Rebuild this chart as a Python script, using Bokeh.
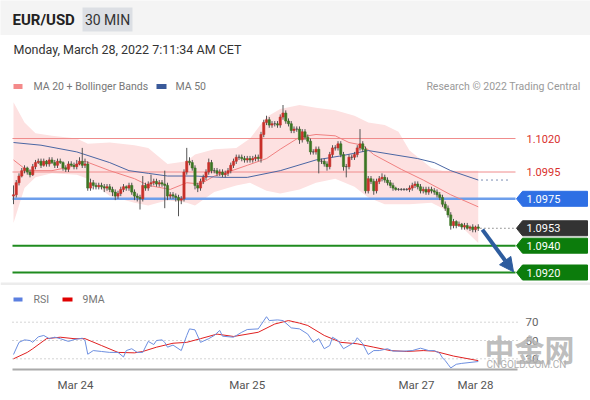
from bokeh.plotting import figure
from bokeh.models import (Range1d, Label, BoxAnnotation, FixedTicker, Arrow,
                          NormalHead, ColumnDataSource)
from bokeh.layouts import column
from bokeh.embed import file_html
from bokeh.resources import INLINE

FONT = "Roboto"

# ---------------- data ----------------
first_open = 1.0977
closes = [
    1.0978, 1.0987, 1.0992, 1.0996, 1.0998, 1.0995, 1.0993, 1.0999, 1.1002, 1.1003,
    1.1000, 1.1003, 1.1001, 1.1004, 1.1002, 1.1000, 1.1003, 1.1002, 1.0998, 1.0997,
    1.1001, 1.1000, 1.0999, 1.1001, 1.1003, 1.1000, 1.1001, 1.0983,
    1.0987, 1.0985, 1.0984, 1.0985, 1.0984, 1.0983, 1.0984, 1.0982, 1.0980, 1.0977,
    1.0979, 1.0982, 1.0984, 1.0983, 1.0985, 1.0980, 1.0977, 1.0976, 1.0975, 1.0985,
    1.0983, 1.0986, 1.0987, 1.0988, 1.0986, 1.0987, 1.0986, 1.0985, 1.0977, 1.0978,
    1.0977, 1.0976, 1.0974, 1.0975, 1.0995, 1.1003, 1.1002, 1.0998, 1.0985, 1.0983,
    1.0988, 1.0991, 1.0995, 1.1002, 1.0996, 1.0996, 1.0994, 1.0995, 1.0993, 1.0994,
    1.0996, 1.1000, 1.1003, 1.1006, 1.1006, 1.1005, 1.1004, 1.1005, 1.1004, 1.1005,
    1.1006, 1.1005,
    1.1023, 1.1032, 1.1034, 1.1030, 1.1031, 1.1031, 1.1030, 1.1036, 1.1039, 1.1033,
    1.1031, 1.1026, 1.1027, 1.1027, 1.1019, 1.1025, 1.1021, 1.1018, 1.1010, 1.1010,
    1.1012, 1.1003, 1.1003, 1.1001, 1.0999, 1.1008, 1.1013, 1.1013, 1.1016, 1.1008,
    1.0999, 1.0999, 1.1006, 1.1006, 1.1008, 1.1013, 1.1016, 1.1012,
    1.0981, 1.0990, 1.0988, 1.0981, 1.0988, 1.0990, 1.0991, 1.0989, 1.0987, 1.0985,
    1.0983, 1.0982, 1.0982, 1.0982, 1.0982, 1.0982, 1.0983, 1.0985, 1.0986, 1.0984,
    1.0981, 1.0982, 1.0980, 1.0982, 1.0981, 1.0980, 1.0978, 1.0976, 1.0971, 1.0968,
    1.0963, 1.0955, 1.0958, 1.0955, 1.0956, 1.0954, 1.0955, 1.0953, 1.0954, 1.0952,
    1.0954, 1.0953,
]
# wick lengths beyond the body, in pips
upper_wick = [
    7, 2, 2, 2, 2, 1, 2, 2, 2, 2,
    2, 2, 1, 2, 2, 2, 2, 2, 1, 2,
    2, 2, 2, 3, 3, 10, 4, 2, 3, 2,
    2, 2, 2, 2, 2, 2, 2, 2, 2, 2,
    2, 1, 2, 2, 2, 2, 2, 7, 2, 2,
    6, 2, 2, 2, 2, 10, 2, 2, 2, 2,
    2, 2, 2, 10, 3, 2, 2, 2, 2, 2,
    2, 3, 2, 2, 2, 2, 2, 2, 2, 2,
    2, 2, 2, 2, 2, 2, 2, 2, 2, 2,
    2, 2, 3, 2, 2, 2, 2, 2, 6, 2,
    2, 2, 2, 2, 2, 2, 2, 2, 2, 2,
    2, 2, 2, 2, 2, 2, 2, 2, 2, 2,
    2, 2, 2, 2, 2, 2, 11, 2, 2, 2,
    2, 2, 2, 2, 3, 2, 2, 2, 2, 1,
    1, 1, 1, 1, 2, 2, 2, 2, 2, 2,
    2, 2, 2, 2, 2, 2, 2, 2, 2, 2,
    2, 1, 2, 1, 2, 2, 1, 2, 1, 2,
]
lower_wick = [
    6, 2, 2, 1, 2, 2, 2, 1, 2, 1,
    2, 1, 2, 2, 1, 2, 2, 1, 2, 2,
    2, 1, 2, 2, 1, 2, 2, 2, 2, 3,
    2, 2, 2, 3, 2, 2, 3, 3, 2, 2,
    2, 2, 2, 2, 3, 3, 8, 2, 2, 2,
    2, 2, 2, 2, 2, 17, 3, 2, 2, 3,
    12, 3, 2, 2, 2, 2, 3, 3, 2, 2,
    2, 2, 2, 2, 2, 2, 2, 2, 2, 2,
    2, 2, 2, 2, 2, 2, 2, 2, 2, 2,
    3, 2, 2, 2, 2, 2, 2, 2, 2, 2,
    2, 2, 2, 2, 3, 2, 2, 2, 2, 2,
    2, 9, 2, 2, 3, 2, 2, 2, 2, 2,
    3, 8, 2, 2, 2, 2, 2, 2, 2, 2,
    2, 3, 2, 2, 2, 2, 2, 2, 2, 1,
    1, 1, 1, 1, 2, 2, 2, 2, 2, 2,
    2, 2, 2, 2, 2, 2, 2, 2, 2, 3,
    2, 2, 1, 2, 2, 1, 2, 2, 2, 2,
]

band_idx = [0, 4, 8, 14, 23, 27, 35, 44, 49, 56, 63, 66, 73, 81, 86, 92, 97, 104,
            110, 117, 124, 129, 135, 140, 144, 152, 156, 159, 169]
band_upper = [1.1047, 1.1032, 1.1024, 1.1022, 1.1020, 1.1016, 1.1017, 1.1015, 1.1013,
              1.1001, 1.1003, 1.1008, 1.1012, 1.1013, 1.1020, 1.1036, 1.1042, 1.1045,
              1.1043, 1.1041, 1.1037, 1.1032, 1.1030, 1.1025, 1.1011, 1.0998, 1.0996,
              1.0996, 1.0996]
band_lower = [1.0957, 1.0983, 1.0991, 1.0994, 1.0993, 1.0990, 1.0977, 1.0972, 1.0970,
              1.0974, 1.0972, 1.0970, 1.0980, 1.0985, 1.0987, 1.0981, 1.0979, 1.0982,
              1.0987, 1.0990, 1.0984, 1.0976, 1.0971, 1.0971, 1.0971, 1.0972, 1.0968,
              1.0962, 1.0942]

ma20_idx = [0, 5, 14, 21, 26, 35, 44, 49, 57, 63, 68, 73, 78, 85, 92, 97, 104, 110,
            117, 122, 127, 131, 141, 149, 159, 169]
ma20 = [1.1004, 1.0996, 1.0996, 1.0999, 1.1003, 1.0996, 1.0990, 1.0985, 1.0982, 1.0987,
        1.0986, 1.0992, 1.0995, 1.1000, 1.1005, 1.1012, 1.1021, 1.1023, 1.1022, 1.1017,
        1.1015, 1.1008, 1.0997, 1.0989, 1.0978, 1.0969]

ma50_idx = [0, 10, 23, 35, 42, 49, 56, 66, 76, 85, 97, 110, 119, 129, 147, 153, 159, 169]
ma50 = [1.1017, 1.1015, 1.1010, 1.1002, 1.0996, 1.0994, 1.0992, 1.0992, 1.0991, 1.0991,
        1.0996, 1.1004, 1.1007, 1.1011, 1.1005, 1.1002, 1.0996, 1.0989]

levels = [1.1020, 1.0995, 1.0975, 1.0953, 1.0940, 1.0920]
level_labels = ["1.1020", "1.0995", "1.0975", "1.0953", "1.0940", "1.0920"]
level_kind = ["resistance", "resistance", "pivot", "last", "support", "support"]

rsi_idx = [0, 2, 4, 6, 7, 9, 11, 13, 15, 17, 20, 22, 25, 26, 27, 29, 32, 35, 38, 40,
           41, 43, 45, 47, 49, 51, 52, 54, 55, 56, 58, 61, 63, 64, 66, 68, 71, 73, 75, 76,
           80, 83, 85, 89, 92, 93, 96, 98, 101, 104, 107, 109, 111, 113, 115, 116, 118,
           120, 122, 124, 125, 127, 129, 131, 133, 136, 138, 142, 145, 148, 151, 153,
           155, 156, 157, 158, 159, 161, 163, 166, 169]
rsi = [34.7, 48, 50.7, 50, 48, 54, 55.5, 52, 53.6, 52, 49, 51, 52.5, 50, 35, 39, 38, 37,
       37, 32, 39, 41, 37, 37, 49, 45.6, 50, 50.7, 48, 42.7, 45, 39, 55.5, 62.7, 61.6, 48,
       52, 55.5, 61, 54.7, 53.6, 59, 62, 62.7, 76, 71.8, 72.5, 71.8, 63.8, 62.7, 57, 48,
       52, 41, 44.5, 53.6, 50, 41, 44.5, 48, 53, 46.4, 34.7, 39, 39, 41, 38.4, 38.4, 39,
       41.6, 39, 39, 36, 31, 28, 24, 20, 24, 25, 26, 27]
rsi_ma_idx = [0, 5, 7, 12, 17, 22, 26, 32, 38, 44, 47, 52, 58, 63, 68, 74, 80, 89, 95,
              100, 104, 107, 113, 119, 125, 131, 137, 143, 149, 153, 160, 169]
rsi_ma = [30, 37, 41, 52, 53.6, 52, 52, 44.5, 37, 36.5, 38, 42.7, 47, 48, 52, 57, 54.4,
          59, 68, 71.8, 69, 66.4, 55.5, 48, 46.4, 42.7, 39, 38, 39, 38.4, 33, 28]
rsi_levels = [70, 50, 30]
rsi_level_labels = ["70", "50", "30"]

tick_idx = [22.5, 85, 146.5, 168]
tick_labels = ["Mar 24", "Mar 25", "Mar 27", "Mar 28"]

# ---------------- layout helpers (page pixel -> data) ----------------
W = 590
X0, DX = 13.0, 2.75          # page x of first candle, px per candle


def ix(px):
    return (px - X0) / DX


def pr(py):                   # page y -> price
    return 1.1020 - (py - 138.0) / 13400.0


def rv(py):                   # page y -> RSI value
    return 70.0 - (py - 321.7) / 0.915


def hy(py):                   # page y -> header units
    return 35.0 - py


def label(fig, x, y, text, size="10.5px", color="#777777", align="left",
          bold=False, font=FONT, alpha=1.0):
    fig.add_layout(Label(x=x, y=y, text=text, text_font=font, text_font_size=size,
                         text_color=color, text_align=align, text_baseline="middle",
                         text_font_style="bold" if bold else "normal",
                         text_alpha=alpha))


def bare(fig):
    fig.outline_line_color = None
    fig.grid.visible = False
    fig.min_border_left = 0
    fig.min_border_right = 0
    fig.min_border_top = 0
    fig.min_border_bottom = 0


# ---------------- header ----------------
header = figure(width=W, height=35, x_range=Range1d(0, W), y_range=Range1d(0, 35),
                output_backend="svg", toolbar_location=None,
                x_axis_location=None, y_axis_location=None,
                background_fill_color="#f4f4f4", border_fill_color="#f4f4f4")
bare(header)
header.add_layout(BoxAnnotation(left=82, right=132, bottom=hy(31), top=hy(7),
                                fill_color="#dcdfe4", fill_alpha=1, line_color=None))
label(header, 12, hy(19), "EUR/USD", size="15px", color="#222222", bold=True)
label(header, 107, hy(19), "30 MIN", size="14px", color="#333333", align="center")

# ---------------- main price panel ----------------
xr = Range1d(ix(0), ix(W))
main = figure(width=W, height=250, x_range=xr, y_range=Range1d(pr(285), pr(35)),
              output_backend="svg", toolbar_location=None,
              x_axis_location=None, y_axis_location=None,
              background_fill_color="white", border_fill_color="white")
bare(main)

n = len(closes)
idx = list(range(n))
opens = [first_open] + closes[:-1]
highs = [max(o, c) + u * 0.0001 for o, c, u in zip(opens, closes, upper_wick)]
lows = [min(o, c) - d * 0.0001 for o, c, d in zip(opens, closes, lower_wick)]
body_col = ["#c8302a" if c > o else ("#3b7523" if c < o else "#444444")
            for o, c in zip(opens, closes)]
csrc = ColumnDataSource(dict(i=idx, o=opens, c=closes, h=highs, l=lows,
                             top=[max(o, c) for o, c in zip(opens, closes)],
                             bot=[min(o, c) for o, c in zip(opens, closes)],
                             col=body_col))

# Bollinger band
main.varea(x=band_idx, y1=band_lower, y2=band_upper, fill_color="#fde1e1", fill_alpha=1)

# level lines
style = {
    "resistance": dict(line="#f08c8c", width=1, tag=None, text="#d9302c"),
    "pivot": dict(line="#6d9eeb", width=2.5, tag="#2e6fe4", text="white"),
    "last": dict(line=None, width=1, tag="#333333", text="white"),
    "support": dict(line="#1f8b1f", width=2, tag="#0c7c0c", text="white"),
}
lv_src = dict(x0=[], x1=[], y=[], c=[], w=[])
for lv, kind in zip(levels, level_kind):
    s = style[kind]
    if s["line"] is None:
        continue
    lv_src["x0"].append(ix(12)); lv_src["x1"].append(ix(515))
    lv_src["y"].append(lv); lv_src["c"].append(s["line"]); lv_src["w"].append(s["width"])
main.segment(x0="x0", x1="x1", y0="y", y1="y", line_color="c", line_width="w",
             source=ColumnDataSource(lv_src))

# moving averages
main.line(ma20_idx, ma20, line_color="#f08080", line_width=1)
main.line(ma50_idx, ma50, line_color="#4a66a3", line_width=1)
main.segment(x0=[ma50_idx[-1] + 1], x1=[ix(510)], y0=[ma50[-1]], y1=[ma50[-1]],
             line_color="#7d8fb5", line_width=1, line_dash="2 3")

# candles
main.segment(x0="i", x1="i", y0="h", y1="l", line_color="#555555", line_width=1,
             source=csrc)
main.vbar(x="i", width=0.8, top="top", bottom="bot", fill_color="col",
          line_color="col", line_width=0.6, source=csrc)

# last price dotted
main.segment(x0=[n - 1 + 0.8], x1=[ix(515)], y0=[closes[-1]], y1=[closes[-1]],
             line_color="#444444", line_width=1, line_dash="1 3")

# price tags
half = 7.5 / 13400.0
tag_xs, tag_ys, tag_cols = [], [], []
for lv, kind, txt in zip(levels, level_kind, level_labels):
    s = style[kind]
    if s["tag"] is not None:
        tag_xs.append([ix(516), ix(522), ix(587), ix(587), ix(522)])
        tag_ys.append([lv, lv + half, lv + half, lv - half, lv - half])
        tag_cols.append(s["tag"])
main.patches(tag_xs, tag_ys, fill_color=tag_cols, line_color=tag_cols)
for lv, kind, txt in zip(levels, level_kind, level_labels):
    label(main, ix(526), lv, txt, size="11px", color=style[kind]["text"])

# target arrow
arrow_c = "#2d5c9e"
main.add_layout(Arrow(end=NormalHead(size=14, fill_color=arrow_c, line_color=arrow_c),
                      x_start=n - 1 + 1.5, y_start=closes[-1] - 0.0001,
                      x_end=ix(513), y_end=levels[-1] + 0.00005,
                      line_color=arrow_c, line_width=4))

# texts and legend
label(main, ix(13), pr(49), "Monday, March 28, 2022 7:11:34 AM CET", size="12.5px",
      color="#333333")
main.add_layout(BoxAnnotation(left=ix(13), right=ix(22), bottom=pr(88.5), top=pr(83.5),
                              fill_color="#f48a8a", fill_alpha=1, line_color=None))
label(main, ix(33), pr(86), "MA 20 + Bollinger Bands")
main.add_layout(BoxAnnotation(left=ix(156), right=ix(166), bottom=pr(88.5), top=pr(83.5),
                              fill_color="#3a5a9a", fill_alpha=1, line_color=None))
label(main, ix(175), pr(86), "MA 50")
label(main, ix(580), pr(86), "Research \u00a9 2022 Trading Central", color="#999999",
      align="right")
main.add_layout(BoxAnnotation(left=ix(0), right=ix(W), bottom=pr(285), top=pr(282),
                              fill_color="#ececec", fill_alpha=1, line_color=None))

# ---------------- RSI panel ----------------
rsi_fig = figure(width=W, height=113, x_range=xr, y_range=Range1d(rv(369), rv(285)),
                 output_backend="svg", toolbar_location=None,
                 x_axis_location="below", y_axis_location=None,
                 background_fill_color="white", border_fill_color="white")
bare(rsi_fig)
rsi_fig.min_border_bottom = 29

rsi_fig.segment(x0=[ix(12)] * len(rsi_levels), x1=[ix(520)] * len(rsi_levels),
                y0=rsi_levels, y1=rsi_levels, line_color="#aaaaaa", line_width=1,
                line_dash="1 3")
rsi_fig.line(rsi_ma_idx, rsi_ma, line_color="#e02020", line_width=1)
rsi_fig.line(rsi_idx, rsi, line_color="#6d8fe0", line_width=1)

for lv, txt in zip(rsi_levels, rsi_level_labels):
    label(rsi_fig, ix(525), lv, txt, size="11.5px", color="#666666")

rsi_fig.add_layout(BoxAnnotation(left=ix(13), right=ix(22), bottom=rv(301), top=rv(297),
                                 fill_color="#5b7fe0", fill_alpha=1, line_color=None))
label(rsi_fig, ix(33), rv(299), "RSI")
rsi_fig.add_layout(BoxAnnotation(left=ix(62), right=ix(72), bottom=rv(301), top=rv(297),
                                 fill_color="#e00000", fill_alpha=1, line_color=None))
label(rsi_fig, ix(82), rv(299), "9MA")

ax = rsi_fig.xaxis[0]
ax.ticker = FixedTicker(ticks=tick_idx)
ax.major_label_overrides = {t: s for t, s in zip(tick_idx, tick_labels)}
ax.bounds = (ix(12), ix(517))
ax.axis_line_color = "#aaaaaa"
ax.axis_line_width = 2
ax.major_tick_line_color = None
ax.minor_tick_line_color = None
ax.major_tick_out = 0
ax.major_tick_in = 0
ax.major_label_standoff = 8
ax.major_label_text_font = FONT
ax.major_label_text_font_size = "11.5px"
ax.major_label_text_color = "#555555"

# watermark
label(rsi_fig, ix(484), rv(347), "中金网", size="30px", color="#b5b5b5", bold=True,
      font="Noto Sans CJK SC", alpha=0.9)
label(rsi_fig, ix(486), rv(364), "CNGOLD.COM.CN", size="10px", color="#b0b0b0")

layout = column(header, main, rsi_fig, spacing=0)
open("out.html", "w").write(file_html(layout, INLINE))
